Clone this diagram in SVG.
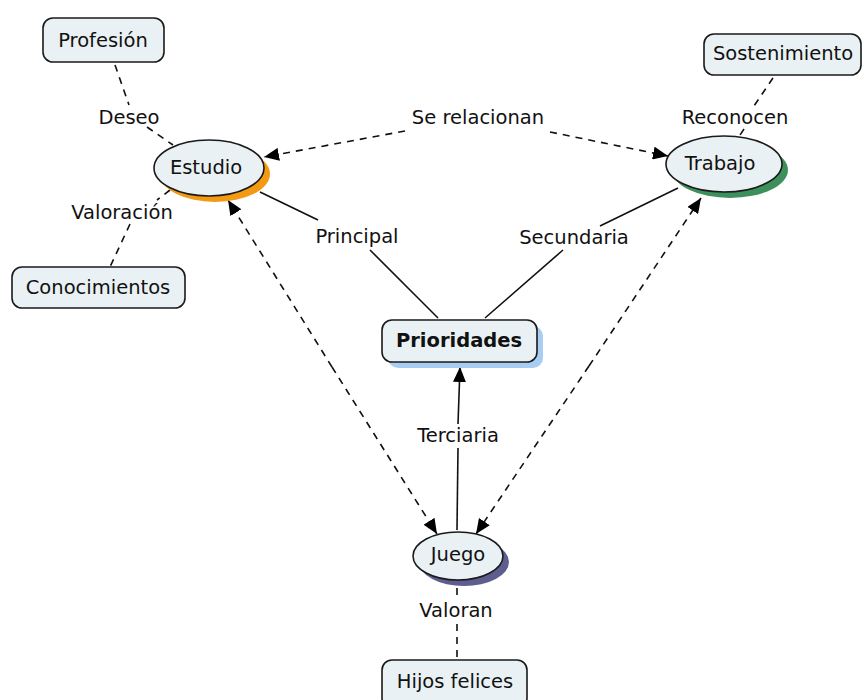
<svg xmlns="http://www.w3.org/2000/svg" width="864" height="700" viewBox="0 0 864 700">
<defs>
<marker id="arr" viewBox="0 0 15 13" refX="15" refY="6.5" markerWidth="15" markerHeight="13" markerUnits="userSpaceOnUse" orient="auto">
<path d="M0,0 L15,6.5 L0,13 Z" fill="#000"/>
</marker>
</defs>
<style>
.box{fill:#eaf1f4;stroke:#1a1a1a;stroke-width:1.6}
.t{font-family:"DejaVu Sans",Verdana,sans-serif;font-size:19.5px;fill:#111;text-anchor:middle;dominant-baseline:central}
.b{font-weight:bold}
.sol{stroke:#111;stroke-width:1.6;fill:none}
.dash{stroke:#111;stroke-width:1.6;fill:none;stroke-dasharray:7,6}
</style>
<rect width="864" height="700" fill="#fff"/>
<g id="connectors">
<path class="dash" d="M115,65 L129,105"/>
<path class="dash" d="M147,127 L173,145"/>
<path class="dash" d="M170,190 L157,200"/>
<path class="dash" d="M130,224 L110,267"/>
<path class="dash" d="M773,78 L754,106"/>
<path class="dash" d="M744,129 L740,135"/>
<path class="dash" d="M405,131 L264,157" marker-end="url(#arr)"/>
<path class="dash" d="M550,132 L668,156" marker-end="url(#arr)"/>
<path class="sol" d="M260,192 L318,220"/>
<path class="sol" d="M370,250 L438,318"/>
<path class="sol" d="M678,188 L600,226"/>
<path class="sol" d="M563,250 L485,318"/>
<path class="sol" d="M458,424 L460,367" marker-end="url(#arr)"/>
<path class="sol" d="M457,530 L458,448"/>
<path class="dash" d="M332,367 L228,200" marker-end="url(#arr)"/>
<path class="dash" d="M332,367 L437,534" marker-end="url(#arr)"/>
<path class="dash" d="M589,366 L701,198" marker-end="url(#arr)"/>
<path class="dash" d="M589,366 L476,534" marker-end="url(#arr)"/>
<path class="dash" d="M457,588 L457,596"/>
<path class="dash" d="M457,624 L457,658"/>
</g>
<g id="label-deseo"><text class="t" x="129" y="117">Deseo</text></g>
<g id="label-valoracion"><text class="t" x="122" y="212">Valoración</text></g>
<g id="label-reconocen"><text class="t" x="735" y="117">Reconocen</text></g>
<g id="label-serelacionan"><text class="t" x="478" y="117">Se relacionan</text></g>
<g id="label-principal"><text class="t" x="357" y="236">Principal</text></g>
<g id="label-secundaria"><text class="t" x="574" y="237">Secundaria</text></g>
<g id="label-terciaria"><text class="t" x="458" y="435">Terciaria</text></g>
<g id="label-valoran"><text class="t" x="456" y="610">Valoran</text></g>
<g id="profesion">
<rect class="box" x="43" y="18" width="121" height="44" rx="10"/>
<text class="t" x="103" y="40">Profesión</text>
</g>
<g id="conocimientos">
<rect class="box" x="12" y="267" width="173" height="41" rx="10"/>
<text class="t" x="98" y="287">Conocimientos</text>
</g>
<g id="sostenimiento">
<rect class="box" x="704" y="34" width="157" height="41" rx="10"/>
<text class="t" x="783" y="53">Sostenimiento</text>
</g>
<g id="estudio">
<ellipse cx="215" cy="174" rx="55" ry="28" fill="#f39a12"/>
<ellipse class="box" cx="209" cy="168" rx="55" ry="28"/>
<text class="t" x="206" y="167">Estudio</text>
</g>
<g id="trabajo">
<ellipse cx="730" cy="170" rx="58" ry="28" fill="#3d8f5c"/>
<ellipse class="box" cx="724" cy="164" rx="58" ry="28"/>
<text class="t" x="720" y="163">Trabajo</text>
</g>
<g id="prioridades">
<rect x="388" y="326" width="155" height="42" rx="10" fill="#a9cdf2"/>
<rect class="box" x="382" y="320" width="155" height="42" rx="10"/>
<text class="t b" x="459" y="340">Prioridades</text>
</g>
<g id="juego">
<ellipse cx="464" cy="562" rx="45" ry="24" fill="#5e5d8f"/>
<ellipse class="box" cx="458" cy="556" rx="45" ry="24"/>
<text class="t" x="458" y="554">Juego</text>
</g>
<g id="hijos">
<rect class="box" x="382" y="660" width="145" height="48" rx="10"/>
<text class="t" x="455" y="681">Hijos felices</text>
</g>
</svg>
